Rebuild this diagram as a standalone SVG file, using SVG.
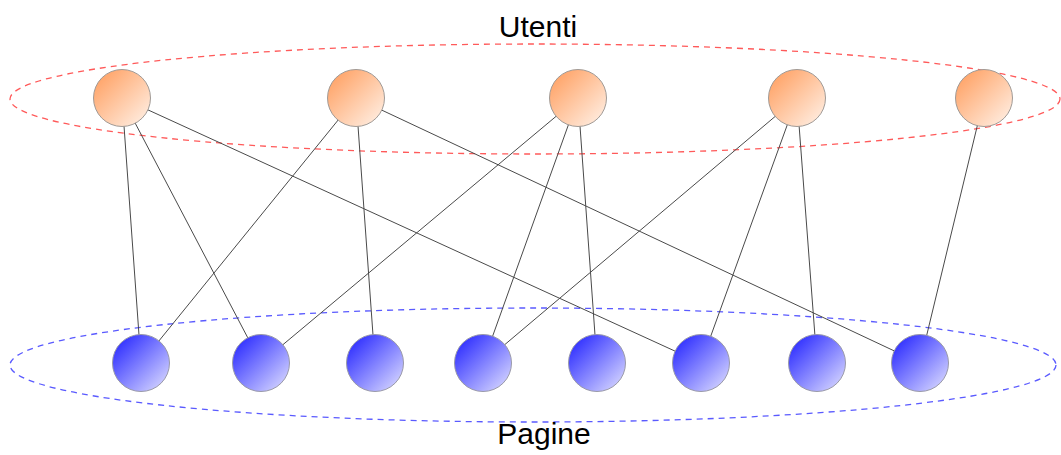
<svg xmlns="http://www.w3.org/2000/svg" width="1061" height="455" viewBox="0 0 1061 455">
<defs>
<linearGradient id="gOrange" x1="0" y1="0" x2="1" y2="1">
<stop offset="0" stop-color="#ff9a58"/>
<stop offset="1" stop-color="#fff4ec"/>
</linearGradient>
<linearGradient id="gBlue" x1="0" y1="0" x2="1" y2="1">
<stop offset="0" stop-color="#1a1aff"/>
<stop offset="1" stop-color="#e4e4ff"/>
</linearGradient>
<style>
.u{fill:url(#gOrange);stroke:#a09a96;stroke-width:1}
.p{fill:url(#gBlue);stroke:#9a9aa8;stroke-width:1}
.e{stroke:#4a4a4a;stroke-width:1;fill:none}
.lbl{font-family:"Liberation Sans",Arial,sans-serif;font-size:30px;fill:#000;text-anchor:middle}
</style>
</defs>
<rect width="1061" height="455" fill="#fff"/>
<ellipse cx="535" cy="99" rx="525" ry="55" fill="none" stroke="#ff5a5a" stroke-width="1.3" stroke-dasharray="6,5"/>
<ellipse cx="533" cy="365" rx="523" ry="57" fill="none" stroke="#5a5aff" stroke-width="1.3" stroke-dasharray="6,5"/>
<text class="lbl" x="538" y="37">Utenti</text>
<text class="lbl" x="544" y="444">Pagine</text>
<g id="connectors">
<line class="e" x1="122" y1="98" x2="141" y2="363"/>
<line class="e" x1="122" y1="98" x2="261" y2="363"/>
<line class="e" x1="122" y1="98" x2="701" y2="363"/>
<line class="e" x1="356" y1="98" x2="141" y2="363"/>
<line class="e" x1="356" y1="98" x2="375" y2="363"/>
<line class="e" x1="356" y1="98" x2="920" y2="363"/>
<line class="e" x1="578" y1="98" x2="261" y2="363"/>
<line class="e" x1="578" y1="98" x2="483" y2="363"/>
<line class="e" x1="578" y1="98" x2="597" y2="363"/>
<line class="e" x1="797" y1="98" x2="483" y2="363"/>
<line class="e" x1="797" y1="98" x2="701" y2="363"/>
<line class="e" x1="797" y1="98" x2="817" y2="363"/>
<line class="e" x1="984" y1="98" x2="920" y2="363"/>
</g>
<g id="u1"><circle class="u" cx="122" cy="98" r="28.5"/></g>
<g id="u2"><circle class="u" cx="356" cy="98" r="28.5"/></g>
<g id="u3"><circle class="u" cx="578" cy="98" r="28.5"/></g>
<g id="u4"><circle class="u" cx="797" cy="98" r="28.5"/></g>
<g id="u5"><circle class="u" cx="984" cy="98" r="28.5"/></g>
<g id="p1"><circle class="p" cx="141" cy="363" r="28.5"/></g>
<g id="p2"><circle class="p" cx="261" cy="363" r="28.5"/></g>
<g id="p3"><circle class="p" cx="375" cy="363" r="28.5"/></g>
<g id="p4"><circle class="p" cx="483" cy="363" r="28.5"/></g>
<g id="p5"><circle class="p" cx="597" cy="363" r="28.5"/></g>
<g id="p6"><circle class="p" cx="701" cy="363" r="28.5"/></g>
<g id="p7"><circle class="p" cx="817" cy="363" r="28.5"/></g>
<g id="p8"><circle class="p" cx="920" cy="363" r="28.5"/></g>
</svg>
